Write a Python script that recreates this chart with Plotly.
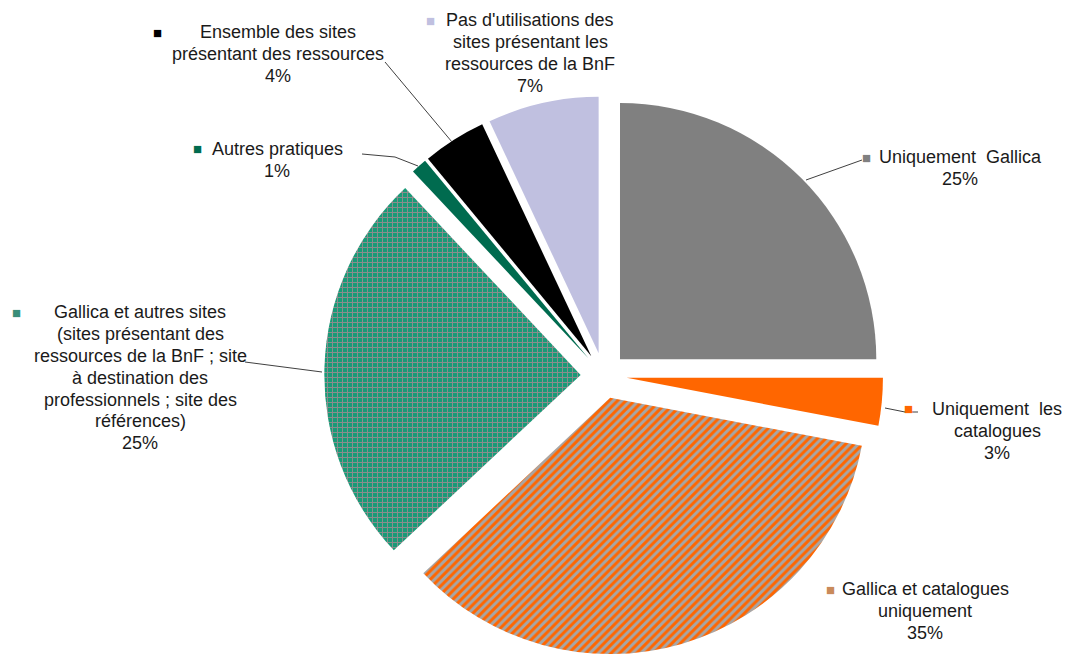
import plotly.graph_objects as go

labels = [
    "Uniquement  Gallica",
    "Uniquement les catalogues",
    "Gallica et catalogues uniquement",
    "Gallica et autres sites (sites présentant des ressources de la BnF ; site à destination des professionnels ; site des références)",
    "Autres pratiques",
    "Ensemble des sites présentant des ressources",
    "Pas d'utilisations des sites présentant les ressources de la BnF",
]
values = [25, 3, 35, 25, 1, 4, 7]
label_lines = [
    ["Uniquement\u00a0 Gallica", "25%"],
    ["Uniquement\u00a0 les", "catalogues", "3%"],
    ["Gallica et catalogues", "uniquement", "35%"],
    ["Gallica et autres sites", "(sites présentant des", "ressources de la BnF ; site",
     "à destination des", "professionnels ; site des", "références)", "25%"],
    ["Autres pratiques", "1%"],
    ["Ensemble des sites", "présentant des ressources", "4%"],
    ["Pas d'utilisations des", "sites présentant les", "ressources de la BnF", "7%"],
]

colors = ["#808080", "#FF6600", "#A6A6A6", "#1A9A78", "#006B4F", "#000000", "#C0C0E0"]
key_colors = ["#808080", "#FF6600", "#C98A5A", "#3A8E78", "#006B4F", "#000000", "#C0C0E0"]
pattern_shapes = ["", "", "/", "+", "", "", ""]
pattern_fg = ["#808080", "#FF6600", "#FF6600", "#8C8C8C", "#006B4F", "#000000", "#C0C0E0"]

W, H = 1078, 655


def px(x, y):
    return x / W, 1 - y / H


fig = go.Figure(go.Pie(
    labels=labels,
    values=values,
    sort=False,
    direction="clockwise",
    rotation=0,
    pull=[0.09] * len(values),
    textinfo="none",
    hoverinfo="label+percent",
    marker=dict(
        colors=colors,
        line=dict(width=0),
        pattern=dict(shape=pattern_shapes, fgcolor=pattern_fg, bgcolor=colors,
                     size=[6, 6, 6, 5, 6, 6, 6], solidity=[0.3, 0.3, 0.5, 0.35, 0.3, 0.3, 0.3],
                     fillmode="replace"),
    ),
    domain=dict(x=[0.16, 0.96], y=[0.0, 0.853]),
    showlegend=False,
))

# label layout: (text centre x, first-line y, key square x, key square y)
label_pos = [
    (960, 157, 866, 157),
    (997, 409, 908, 408),
    (925, 589, 830, 589),
    (140, 312, 16, 312),
    (277, 149, 197, 148),
    (278, 32, 157, 32),
    (530, 20, 430, 20),
]

annotations = []
font = dict(family="Liberation Sans, Arial, sans-serif", size=18, color="#1a1a1a")
line_h = 21.9
for i, lines in enumerate(label_lines):
    cx, y0, kx, ky = label_pos[i]
    for j, t in enumerate(lines):
        x, y = px(cx, y0 + j * line_h)
        annotations.append(dict(x=x, y=y, xref="paper", yref="paper", text=t,
                                showarrow=False, font=font, xanchor="center", yanchor="middle"))
    x, y = px(kx, ky)
    annotations.append(dict(x=x, y=y, xref="paper", yref="paper", text="■",
                            showarrow=False, font=dict(size=15, color=key_colors[i]),
                            xanchor="center", yanchor="middle"))

leaders = [
    [(806, 180), (862, 160)],
    [(885, 408), (905, 412), (918, 412)],
    [(245, 362), (322, 372)],
    [(362, 154), (395, 157), (418, 166)],
    [(385, 62), (452, 142)],
]
shapes = []
for pts in leaders:
    path = ""
    for k, (x, y) in enumerate(pts):
        xp, yp = px(x, y)
        path += ("M" if k == 0 else "L") + f"{xp},{yp} "
    shapes.append(dict(type="path", path=path.strip(), xref="paper", yref="paper",
                       line=dict(color="#404040", width=1)))

fig.update_layout(
    width=W, height=H,
    margin=dict(l=0, r=0, t=0, b=0),
    paper_bgcolor="white",
    plot_bgcolor="white",
    annotations=annotations,
    shapes=shapes,
)

fig.write_html("out.html")
